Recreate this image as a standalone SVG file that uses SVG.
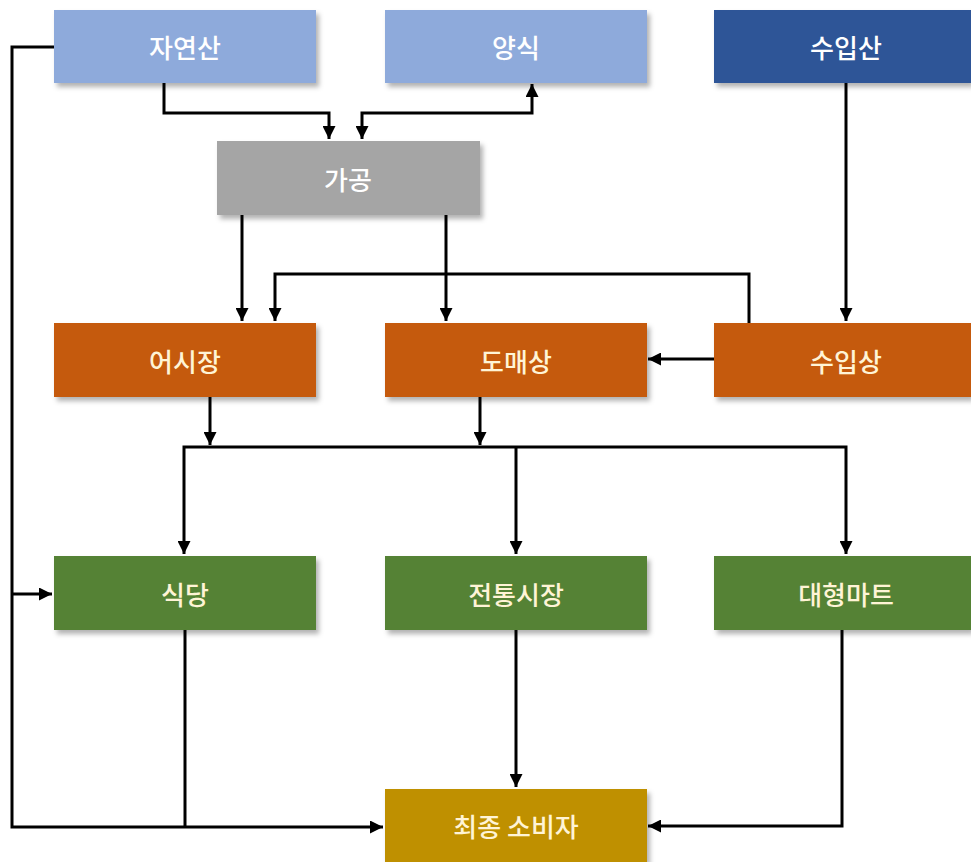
<svg xmlns="http://www.w3.org/2000/svg" width="971" height="862" viewBox="0 0 971 862">
<style>
.box{filter:url(#sh)}
.t{font-family:"Noto Sans CJK KR","Noto Sans",sans-serif;font-size:26px;font-weight:500;text-anchor:middle;dominant-baseline:central}
.w{fill:#ffffff}
.c{fill:#fff4d6}
.ln{fill:none;stroke:#000;stroke-width:3;stroke-linejoin:miter}
</style>
<defs>
<filter id="sh" x="-10%" y="-20%" width="130%" height="150%">
<feDropShadow dx="3" dy="4" stdDeviation="2.5" flood-color="#000" flood-opacity="0.3"/>
</filter>
<marker id="ar" viewBox="0 0 10 10" refX="10" refY="5" markerWidth="13" markerHeight="13" markerUnits="userSpaceOnUse" orient="auto-start-reverse">
<path d="M0,0 L10,5 L0,10 z" fill="#000"/>
</marker>
</defs>
<rect width="971" height="862" fill="#fff"/>
<g id="connectors">
<path class="ln" d="M54,47 H12 V827 H383" marker-end="url(#ar)"/>
<path class="ln" d="M12,594 H52" marker-end="url(#ar)"/>
<path class="ln" d="M164,83 V113 H329 V139" marker-end="url(#ar)"/>
<path class="ln" d="M362,139 V113 H532 V84" marker-start="url(#ar)" marker-end="url(#ar)"/>
<path class="ln" d="M242,215 V321" marker-end="url(#ar)"/>
<path class="ln" d="M446,215 V321" marker-end="url(#ar)"/>
<path class="ln" d="M749,323 V274 H275 V321" marker-end="url(#ar)"/>
<path class="ln" d="M846,83 V321" marker-end="url(#ar)"/>
<path class="ln" d="M714,359 H648" marker-end="url(#ar)"/>
<path class="ln" d="M210,397 V445" marker-end="url(#ar)"/>
<path class="ln" d="M480,397 V445" marker-end="url(#ar)"/>
<path class="ln" d="M846,554 V447 H184 V554" marker-start="url(#ar)" marker-end="url(#ar)"/>
<path class="ln" d="M516,447 V554" marker-end="url(#ar)"/>
<path class="ln" d="M185,630 V827"/>
<path class="ln" d="M516,630 V787" marker-end="url(#ar)"/>
<path class="ln" d="M842,630 V826 H648" marker-end="url(#ar)"/>
</g>
<g id="n-jayeonsan"><rect class="box" x="54" y="10" width="262" height="73" fill="#8eaadb"/><text class="t w" x="185" y="46">자연산</text></g>
<g id="n-yangsik"><rect class="box" x="385" y="10" width="262" height="73" fill="#8eaadb"/><text class="t w" x="516" y="46">양식</text></g>
<g id="n-suipsan"><rect class="box" x="714" y="10" width="257" height="73" fill="#2f5597"/><text class="t w" x="846" y="46">수입산</text></g>
<g id="n-gagong"><rect class="box" x="217" y="141" width="263" height="74" fill="#a5a5a5"/><text class="t w" x="348" y="178">가공</text></g>
<g id="n-eosijang"><rect class="box" x="54" y="323" width="262" height="74" fill="#c55a11"/><text class="t c" x="185" y="360">어시장</text></g>
<g id="n-domaesang"><rect class="box" x="385" y="323" width="262" height="74" fill="#c55a11"/><text class="t c" x="516" y="360">도매상</text></g>
<g id="n-suipsang"><rect class="box" x="714" y="323" width="257" height="74" fill="#c55a11"/><text class="t c" x="846" y="360">수입상</text></g>
<g id="n-sikdang"><rect class="box" x="54" y="556" width="262" height="74" fill="#548235"/><text class="t c" x="185" y="593">식당</text></g>
<g id="n-jeontong"><rect class="box" x="385" y="556" width="262" height="74" fill="#548235"/><text class="t c" x="516" y="593">전통시장</text></g>
<g id="n-daehyeong"><rect class="box" x="714" y="556" width="257" height="74" fill="#548235"/><text class="t c" x="846" y="593">대형마트</text></g>
<g id="n-consumer"><rect class="box" x="385" y="789" width="262" height="73" fill="#bf9000"/><text class="t c" x="516" y="825">최종 소비자</text></g>
</svg>
